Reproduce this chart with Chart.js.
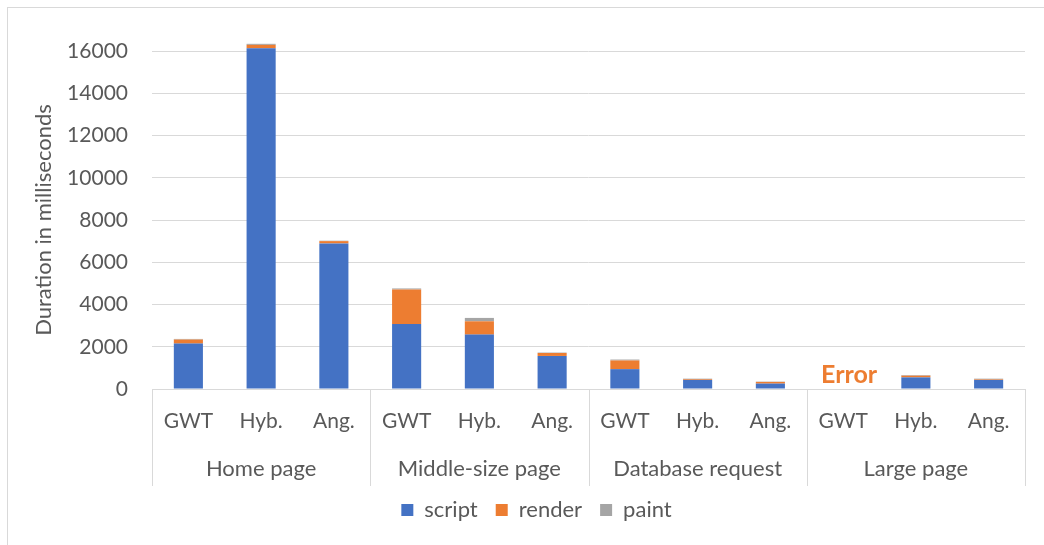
<!DOCTYPE html>
<html>
<head>
<meta charset="utf-8">
<script src="https://cdn.jsdelivr.net/npm/chart.js@4"></script>
<style>
  body { margin: 0; background: #fff; }
  #wrap { position: relative; width: 1044px; height: 545px; overflow: hidden; }
  #frame { position: absolute; left: 7px; top: 7px; width: 1100px; height: 600px;
           border-left: 1px solid #d9d9d9; border-top: 1px solid #d9d9d9; }
  canvas { position: absolute; left: 0; top: 0; }
</style>
</head>
<body>
<div id="wrap">
  <div id="frame"></div>
  <canvas id="chart" width="1044" height="545"></canvas>
</div>
<script>
// data
const tools = ['GWT', 'Hyb.', 'Ang.', 'GWT', 'Hyb.', 'Ang.', 'GWT', 'Hyb.', 'Ang.', 'GWT', 'Hyb.', 'Ang.'];
const groups = ['Home page', 'Middle-size page', 'Database request', 'Large page'];
const scriptMs = [2150, 16130, 6890, 3080, 2575, 1565, 940, 430, 255, null, 550, 430];
const renderMs = [190, 160, 110, 1630, 630, 140, 410, 35, 80, null, 80, 30];
const paintMs = [30, 50, 20, 50, 160, 20, 45, 25, 15, null, 30, 30];
const errorIndex = 9; // Large page / GWT had no result

const textColor = '#595959';
const gridColor = '#d9d9d9';
const fontFamily = 'Lato, "Open Sans", sans-serif';

// group separators under the axis + the "Error" note
const extras = {
    id: 'extras',
    afterLayout(chart) {
        // legend sits a bit right of centre in the original
        chart.legend.left += 24;
        chart.legend.right += 24;
    },
    afterDraw(chart) {
        const ctx = chart.ctx;
        const x = chart.scales.x;
        const y = chart.scales.y;
        const bottom = chart.chartArea.bottom;
        ctx.save();
        ctx.strokeStyle = gridColor;
        ctx.lineWidth = 1;
        for (let k = 0; k <= groups.length; k++) {
            let px;
            if (k === 0) px = x.left;
            else if (k === groups.length) px = x.right;
            else px = (x.getPixelForValue(3 * k - 1) + x.getPixelForValue(3 * k)) / 2;
            px = Math.round(px) + 0.5;
            ctx.beginPath();
            ctx.moveTo(px, bottom);
            ctx.lineTo(px, 486);
            ctx.stroke();
        }
        ctx.fillStyle = '#ED7D31';
        ctx.font = 'bold 25px ' + fontFamily;
        ctx.textAlign = 'center';
        ctx.textBaseline = 'middle';
        ctx.fillText('Error', x.getPixelForValue(errorIndex) + 6, y.getPixelForValue(0) - 14);
        ctx.restore();
    }
};

new Chart(document.getElementById('chart').getContext('2d'), {
    type: 'bar',
    data: {
        labels: tools,
        datasets: [
            { label: 'script', data: scriptMs, backgroundColor: '#4472C4', clip: false },
            { label: 'render', data: renderMs, backgroundColor: '#ED7D31', clip: false },
            { label: 'paint', data: paintMs, backgroundColor: '#A5A5A5', clip: false }
        ]
    },
    options: {
        responsive: false,
        animation: false,
        datasets: { bar: { barPercentage: 0.4, categoryPercentage: 1 } },
        layout: { padding: { top: 51, right: 19, left: 0, bottom: 14 } },
        scales: {
            x: {
                stacked: true,
                grid: { display: false },
                border: { display: true, color: gridColor, width: 1 },
                ticks: { color: textColor, padding: 12, font: { family: fontFamily, size: 21 } },
                afterFit: (s) => { s.height = 50; }
            },
            x2: {
                type: 'category',
                position: 'bottom',
                labels: groups,
                grid: { display: false },
                border: { display: false },
                ticks: { color: textColor, padding: 9, font: { family: fontFamily, size: 22 } },
                afterFit: (s) => { s.height = 42; }
            },
            y: {
                stacked: true,
                min: 0,
                max: 16000,
                ticks: {
                    stepSize: 2000,
                    color: textColor,
                    padding: 24,
                    font: { family: fontFamily, size: 21 },
                    callback: (v) => String(v)
                },
                grid: { color: gridColor, drawTicks: false },
                border: { display: false },
                title: {
                    display: true,
                    text: 'Duration in milliseconds',
                    color: textColor,
                    padding: { top: 31, bottom: 0 },
                    font: { family: fontFamily, size: 22 }
                },
                afterFit: (s) => { s.width = 152; }
            }
        },
        plugins: {
            legend: {
                position: 'bottom',
                labels: {
                    color: textColor,
                    boxWidth: 12,
                    boxHeight: 12,
                    padding: 18,
                    font: { family: fontFamily, size: 22 }
                }
            },
            tooltip: { enabled: false }
        }
    },
    plugins: [extras]
});
</script>
</body>
</html>
